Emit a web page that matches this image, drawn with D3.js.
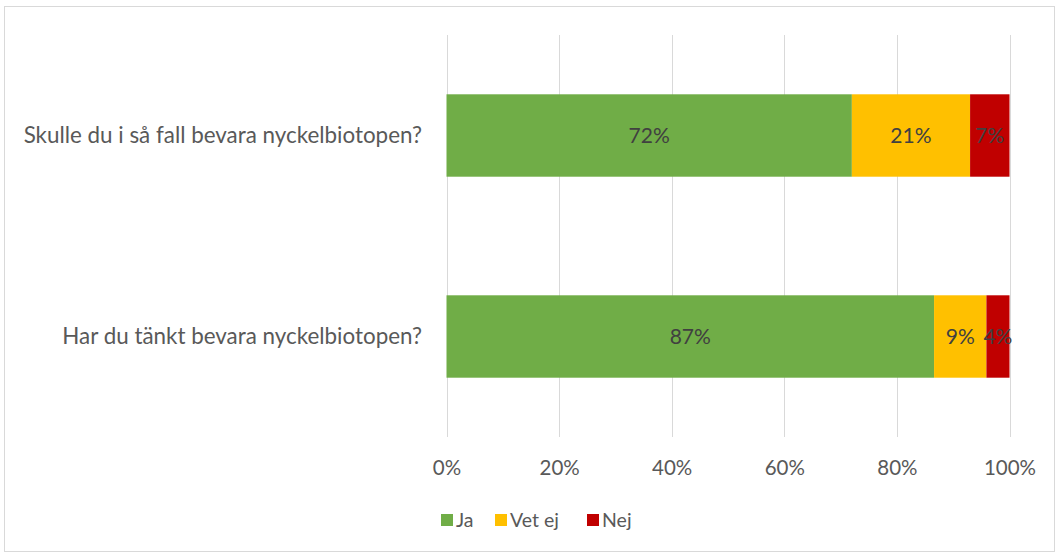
<!DOCTYPE html>
<html>
<head>
<meta charset="utf-8">
<script src="https://cdn.jsdelivr.net/npm/d3@7"></script>
<style>
  body { margin: 0; background: #fff; }
  text { font-family: Lato, "Open Sans", sans-serif; }
</style>
</head>
<body>
<svg id="chart" width="1059" height="555"></svg>
<script>
// data
let categories = ["Skulle du i så fall bevara nyckelbiotopen?", "Har du tänkt bevara nyckelbiotopen?"];
let seriesNames = ["Ja", "Vet ej", "Nej"];
let jaValues = [0.72, 0.866];
let vetEjValues = [0.21, 0.093];
let nejValues = [0.07, 0.041];
let tickValues = [0, 0.2, 0.4, 0.6, 0.8, 1];

let colors = ["#70AD47", "#FFC000", "#C00000"];

let rows = categories.map(function (c, i) {
    return {category: c, "Ja": jaValues[i], "Vet ej": vetEjValues[i], "Nej": nejValues[i]};
});

let svg = d3.select("#chart");

// outer frame
svg.append("rect")
    .attr("x", 4.5).attr("y", 6.5)
    .attr("width", 1050).attr("height", 545)
    .attr("fill", "none")
    .attr("stroke", "#d9d9d9");

let x = d3.scaleLinear().domain([0, 1]).range([446.5, 1009.5]);
let y = d3.scaleBand().domain(categories).range([35, 437])
    .paddingInner(0.59).paddingOuter(0.295);

// gridlines
svg.append("g").selectAll("line").data(tickValues)
    .enter().append("line")
    .attr("x1", d => Math.round(x(d)) + 0.5)
    .attr("x2", d => Math.round(x(d)) + 0.5)
    .attr("y1", 35).attr("y2", 437)
    .attr("stroke", "#d9d9d9")
    .attr("stroke-width", 1);

let stack = d3.stack().keys(seriesNames);
let stacked = stack(rows);

let groups = svg.append("g").selectAll("g").data(stacked)
    .enter().append("g")
    .attr("fill", (d, i) => colors[i]);

groups.selectAll("rect").data(d => d)
    .enter().append("rect")
    .attr("x", d => x(d[0]))
    .attr("width", d => x(d[1]) - x(d[0]))
    .attr("y", d => y(d.data.category))
    .attr("height", y.bandwidth());

let fmt = d3.format(".0%");
groups.selectAll("text").data(d => d)
    .enter().append("text")
    .attr("x", d => (x(d[0]) + x(d[1])) / 2)
    .attr("y", d => y(d.data.category) + y.bandwidth() / 2)
    .attr("dy", "0.35em")
    .attr("text-anchor", "middle")
    .attr("fill", "#404040")
    .style("font-size", "21px")
    .text(d => fmt(d[1] - d[0]));

// category labels
svg.append("g").selectAll("text").data(categories)
    .enter().append("text")
    .attr("x", 422)
    .attr("y", d => y(d) + y.bandwidth() / 2)
    .attr("dy", "0.35em")
    .attr("text-anchor", "end")
    .attr("fill", "#595959")
    .style("font-size", "22.4px")
    .text(d => d);

// x axis labels
let xAxis = d3.axisBottom(x).tickValues(tickValues).tickFormat(fmt).tickSize(0).tickPadding(23);
let axisG = svg.append("g")
    .attr("transform", "translate(0,437)")
    .call(xAxis);
axisG.select(".domain").remove();
axisG.selectAll("text")
    .attr("fill", "#595959")
    .style("font-size", "20.5px")
    .style("font-family", "Lato, 'Open Sans', sans-serif");

// legend
let legendX = [441, 495, 587];
let legend = svg.append("g").selectAll("g").data(seriesNames)
    .enter().append("g")
    .attr("transform", (d, i) => "translate(" + legendX[i] + ",514)");
legend.append("rect")
    .attr("width", 12).attr("height", 12)
    .attr("fill", (d, i) => colors[i]);
legend.append("text")
    .attr("x", 15).attr("y", 6)
    .attr("dy", "0.35em")
    .attr("fill", "#595959")
    .style("font-size", "19.5px")
    .text(d => d);
</script>
</body>
</html>
